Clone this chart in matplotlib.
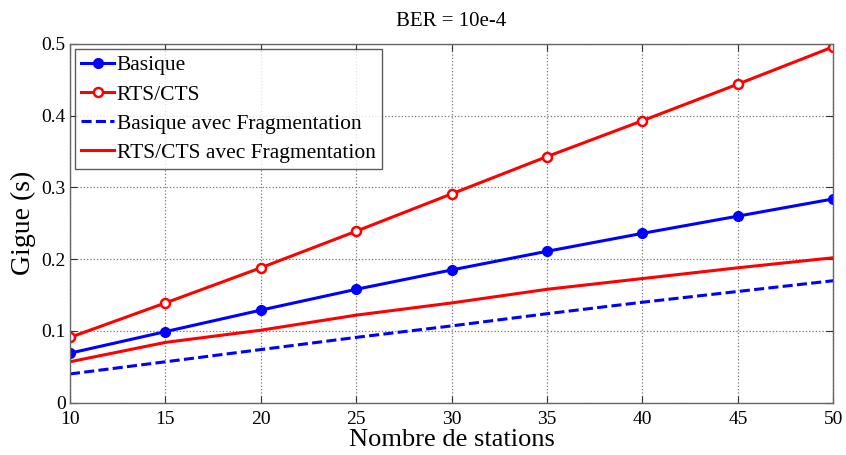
import matplotlib
matplotlib.use("Agg")
import matplotlib.pyplot as plt

stations = [10, 15, 20, 25, 30, 35, 40, 45, 50]
basique = [0.069, 0.099, 0.129, 0.158, 0.185, 0.211, 0.236, 0.260, 0.284]
rts_cts = [0.091, 0.139, 0.188, 0.239, 0.291, 0.343, 0.393, 0.444, 0.496]
basique_frag = [0.040, 0.057, 0.074, 0.091, 0.107, 0.124, 0.140, 0.155, 0.170]
rts_frag = [0.057, 0.084, 0.101, 0.122, 0.139, 0.158, 0.173, 0.188, 0.202]

xticks = [10, 15, 20, 25, 30, 35, 40, 45, 50]
yticks = [0, 0.1, 0.2, 0.3, 0.4, 0.5]
ytick_labels = ["0", "0.1", "0.2", "0.3", "0.4", "0.5"]

plt.rcParams['font.family'] = ['Liberation Serif', 'DejaVu Serif']

fig = plt.figure(figsize=(8.46, 4.55), dpi=100)
ax = fig.add_axes([0.0827, 0.115, 0.9022, 0.7884])

ax.plot(stations, basique, color='#0000ff', lw=2.2, marker='o', ms=7,
        mfc='#0000ff', mec='#0000ff', label='Basique')
ax.plot(stations, rts_cts, color='#ff0000', lw=2.2, marker='o', ms=6.5,
        mfc='white', mec='#ff0000', mew=1.8, label='RTS/CTS')
ax.plot(stations, basique_frag, color='#0000ff', lw=2.2, ls=(0, (3.3, 1.4)),
        label='Basique avec Fragmentation')
ax.plot(stations, rts_frag, color='#ff0000', lw=2.2,
        label='RTS/CTS avec Fragmentation')

ax.set_xlim(10, 50)
ax.set_ylim(0, 0.5)
ax.set_xticks(xticks)
ax.set_yticks(yticks)
ax.set_yticklabels(ytick_labels)
ax.tick_params(direction='in', top=True, right=True, labelsize=14, length=5,
               color='#333333')
ax.tick_params(axis='x', pad=6)
ax.tick_params(axis='y', pad=3)
ax.grid(True, ls=':', color='#777777', lw=0.9)
for s in ax.spines.values():
    s.set_color('#666666')
    s.set_linewidth(1.0)

ax.set_title('BER = 10e-4', fontsize=15, pad=13)
ax.set_xlabel('Nombre de stations', fontsize=19, labelpad=1)
ax.set_ylabel('Gigue (s)', fontsize=20, labelpad=4)

leg = ax.legend(loc='upper left', fontsize=15.5, frameon=True, fancybox=False,
                edgecolor='#333333', borderpad=0.3, labelspacing=0.42,
                handlelength=1.5, handletextpad=0.15, borderaxespad=0.23)
leg.get_frame().set_linewidth(1.0)

fig.savefig('out.png', dpi=100)
